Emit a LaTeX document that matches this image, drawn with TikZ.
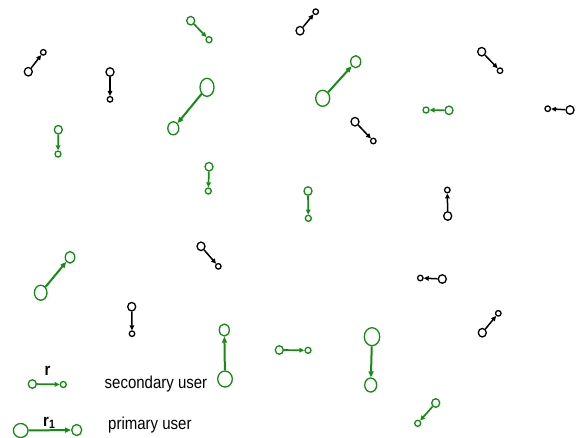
\documentclass[tikz,border=0pt]{standalone}
\usepackage{fontspec}
\setmainfont{Liberation Sans}
\usetikzlibrary{shapes.geometric,arrows.meta,shadows}
\definecolor{pugreen}{RGB}{20,140,20}
\newcommand{\tallertext}[1]{\scalebox{1}[1.15]{#1}}
\tikzset{
  user/.style={shape=ellipse,draw,fill=white,inner sep=0pt,line width=1.3pt,
    drop shadow={opacity=0.25,shadow xshift=0.4pt,shadow yshift=-0.8pt}},
  btx/.style={user,draw=black,minimum width=8pt,minimum height=8.5pt},
  brx/.style={user,draw=black,minimum width=5.5pt,minimum height=5.5pt},
  gtx/.style={user,draw=pugreen,minimum width=8pt,minimum height=8.5pt},
  grx/.style={user,draw=pugreen,minimum width=6pt,minimum height=6pt},
  pu/.style={user,draw=pugreen},
  blink/.style={draw=black,line width=1.5pt,-{Triangle[length=5pt,width=4.5pt]}},
  glink/.style={draw=pugreen,line width=1.7pt,-{Triangle[length=5pt,width=4.5pt]}},
  plink/.style={draw=pugreen,line width=2pt,-{Triangle[length=6pt,width=5pt]}},
  legend/.style={font=\fontsize{15}{17}\selectfont,anchor=base west,inner sep=0pt},
  rlabel/.style={font=\fontsize{15}{17}\selectfont\bfseries,anchor=base west,inner sep=0pt},
}
\begin{document}
\begin{tikzpicture}[x=1pt,y=-1pt]
\useasboundingbox (0,0) rectangle (579,437);

% inactive secondary links (black)
\node[btx] (b1t) at (28.3,71.7) {};   \node[brx] (b1r) at (43.3,52.3) {};
\node[btx] (b2t) at (110,72) {};      \node[brx] (b2r) at (110,99.3) {};
\node[btx] (b3t) at (300,30.7) {};    \node[brx] (b3r) at (315.7,11.7) {};
\node[btx] (b4t) at (481.7,51.7) {};  \node[brx] (b4r) at (500,70.7) {};
\node[btx] (b5t) at (355,121.7) {};   \node[brx] (b5r) at (373.3,141) {};
\node[btx] (b6t) at (570,110) {};     \node[brx] (b6r) at (547.7,108.7) {};
\node[btx] (b7t) at (447.7,216) {};   \node[brx] (b7r) at (447.3,190) {};
\node[btx] (b8t) at (442.3,279) {};   \node[brx] (b8r) at (420.3,278) {};
\node[btx] (b9t) at (482.3,332.7) {}; \node[brx] (b9r) at (498.3,313.3) {};
\node[btx] (b10t) at (201,246.3) {};  \node[brx] (b10r) at (218.3,266.3) {};
\node[btx] (b11t) at (131.7,306.7) {};\node[brx] (b11r) at (132,333.7) {};
\foreach \i in {1,...,11} \draw[blink] (b\i t) -- (b\i r);

% active secondary links (green)
\node[gtx] (g1t) at (190.7,20.7) {};  \node[grx] (g1r) at (209,39.7) {};
\node[gtx] (g2t) at (58.3,129.7) {};  \node[grx] (g2r) at (58,154) {};
\node[gtx] (g3t) at (449,110.3) {};   \node[grx] (g3r) at (426,110) {};
\node[gtx] (g4t) at (209,166.7) {};   \node[grx] (g4r) at (208.3,191) {};
\node[gtx] (g5t) at (308,191) {};     \node[grx] (g5r) at (308.3,218.3) {};
\node[gtx] (g6t) at (279.3,350) {};   \node[grx] (g6r) at (308,350.3) {};
\node[gtx] (g7t) at (435.7,403) {};   \node[grx] (g7r) at (417.7,423.3) {};
\foreach \i in {1,...,7} \draw[glink] (g\i t) -- (g\i r);

% primary links
\node[pu,minimum width=14pt,minimum height=18pt] (p1t) at (207,87.3) {};
\node[pu,minimum width=11pt,minimum height=13pt] (p1r) at (173.3,128.3) {};
\node[pu,minimum width=14pt,minimum height=16pt] (p2t) at (322.7,98.3) {};
\node[pu,minimum width=10pt,minimum height=12pt] (p2r) at (355.7,61.7) {};
\node[pu,minimum width=12.6pt,minimum height=15pt] (p3t) at (40.7,292.7) {};
\node[pu,minimum width=9.5pt,minimum height=11.5pt] (p3r) at (70,257.3) {};
\node[pu,minimum width=14.6pt,minimum height=16pt] (p4t) at (225,379) {};
\node[pu,minimum width=10pt,minimum height=12pt] (p4r) at (224.3,330) {};
\node[pu,minimum width=15.4pt,minimum height=18pt] (p5t) at (372,336.7) {};
\node[pu,minimum width=12pt,minimum height=14pt] (p5r) at (370.7,385) {};
\foreach \i in {1,...,5} \draw[plink] (p\i t) -- (p\i r);

% legend
\node[gtx] (lst) at (32.3,384) {};   \node[grx] (lsr) at (63.3,384.5) {};
\draw[glink] (lst) -- (lsr);
\node[rlabel] (lsl) at (44.5,375) {\tallertext{r}};
\node[legend] (lstext) at (104.5,388) {\tallertext{secondary user}};

\node[pu,minimum width=14.6pt,minimum height=14pt] (lpt) at (20.7,430.5) {};
\node[pu,minimum width=10pt,minimum height=11pt] (lpr) at (76.7,430) {};
\draw[plink] (lpt) -- (lpr);
\node[rlabel] (lpl) at (43,426) {\tallertext{r\textsubscript{1}}};
\node[legend] (lptext) at (108,429.5) {\tallertext{primary user}};
\end{tikzpicture}
\end{document}
